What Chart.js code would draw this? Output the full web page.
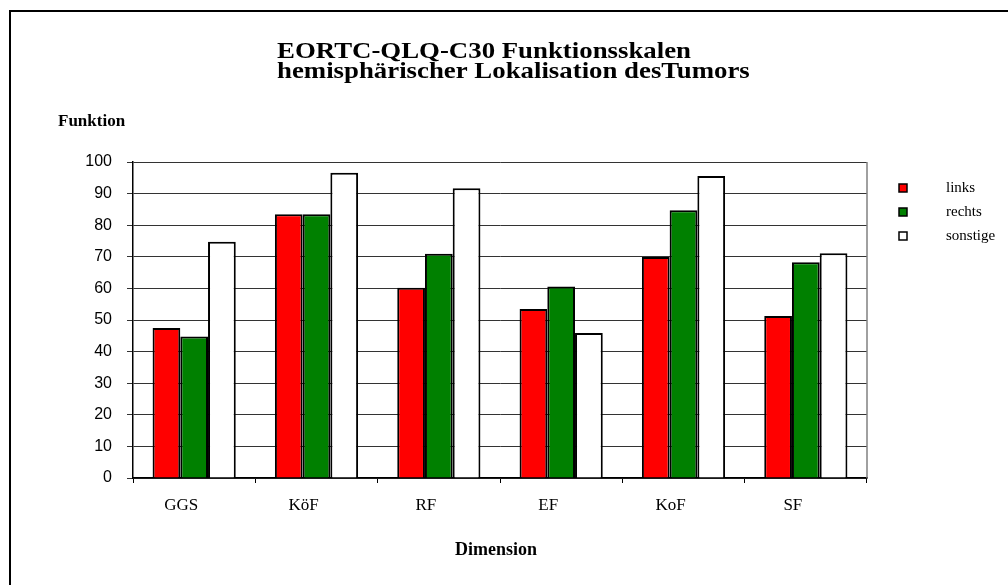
<!DOCTYPE html>
<html>
<head>
<meta charset="utf-8">
<script src="https://cdn.jsdelivr.net/npm/chart.js@4"></script>
<style>
  html, body { margin: 0; padding: 0; background: #fff; }
  #wrap { width: 1008px; height: 585px; position: relative; }
</style>
</head>
<body>
<div id="wrap"><canvas id="chart" width="1008" height="585"></canvas></div>
<script>
// data
const categories = ['GGS', 'KöF', 'RF', 'EF', 'KoF', 'SF'];
const links    = [47.5, 83.5, 60.2, 53.5, 69.9, 51.3];
const rechts   = [44.8, 83.5, 71.0, 60.6, 84.7, 68.3];
const sonstige = [74.8, 96.6, 91.7, 45.9, 95.6, 71.1];
const seriesNames = ['links', 'rechts', 'sonstige'];
const titleLines = ['EORTC-QLQ-C30 Funktionsskalen', 'hemisphärischer Lokalisation desTumors'];
const yTitle = 'Funktion';
const xTitle = 'Dimension';

const serif = '"Liberation Serif", "Times New Roman", serif';
const sans = '"Liberation Sans", Arial, sans-serif';

// draws the frame, title, axis captions, right plot border and the legend
const decorations = {
  id: 'decorations',
  afterDraw(chart) {
    const ctx = chart.ctx;
    const area = chart.chartArea;
    ctx.save();
    // outer frame (cropped at right and bottom)
    ctx.fillStyle = '#000';
    ctx.fillRect(9, 10, 1008, 2);
    ctx.fillRect(9, 10, 2, 585);

    // title, left aligned block, stretched to the original width
    ctx.fillStyle = '#000';
    ctx.textBaseline = 'alphabetic';
    ctx.textAlign = 'left';
    ctx.save();
    ctx.font = 'bold 24px ' + serif;
    const sx = 414 / ctx.measureText(titleLines[0]).width;
    ctx.translate(277, 0);
    ctx.scale(sx, 1);
    ctx.fillText(titleLines[0], 0, 58);
    ctx.fillText(titleLines[1], 0, 78);
    ctx.restore();

    ctx.font = 'bold 17px ' + serif;
    ctx.fillText(yTitle, 58, 126);

    ctx.textAlign = 'center';
    ctx.font = 'bold 18px ' + serif;
    ctx.fillText(xTitle, (area.left + area.right) / 2 - 4, 555);

    // right edge of the plot area
    ctx.strokeStyle = '#808080';
    ctx.lineWidth = 1.5;
    ctx.beginPath();
    ctx.moveTo(area.right, area.top);
    ctx.lineTo(area.right, area.bottom);
    ctx.stroke();

    // legend
    ctx.textAlign = 'left';
    ctx.textBaseline = 'middle';
    ctx.font = '15px ' + serif;
    chart.data.datasets.forEach((ds, i) => {
      const y = 188 + i * 24;
      ctx.fillStyle = ds.backgroundColor;
      ctx.fillRect(899, y - 4, 8, 8);
      ctx.strokeStyle = '#000';
      ctx.lineWidth = 1.5;
      ctx.strokeRect(899, y - 4, 8, 8);
      ctx.fillStyle = '#000';
      ctx.fillText(ds.label, 946, y);
    });
    ctx.restore();
  }
};

const colors = ['#ff0000', '#008000', '#ffffff'];
const values = [links, rechts, sonstige];

new Chart(document.getElementById('chart'), {
  type: 'bar',
  data: {
    labels: categories,
    datasets: values.map((v, i) => ({
      label: seriesNames[i],
      data: v,
      backgroundColor: colors[i],
      borderColor: '#000',
      borderWidth: 2,
      barPercentage: 1,
      categoryPercentage: 0.68
    }))
  },
  options: {
    responsive: false,
    animation: false,
    layout: { padding: { left: 0, top: 162, right: 141, bottom: 0 } },
    plugins: {
      legend: { display: false },
      title: { display: false },
      tooltip: { enabled: false }
    },
    scales: {
      x: {
        grid: {
          display: true,
          drawOnChartArea: false,
          tickLength: 5,
          color: '#000',
          lineWidth: 1
        },
        border: { color: '#000', width: 1.5 },
        ticks: {
          color: '#000',
          font: { family: serif, size: 17 },
          padding: 12,
          labelOffset: -13,
          maxRotation: 0
        },
        afterFit(scale) { scale.height = 107; }
      },
      y: {
        min: 0,
        max: 100,
        grid: {
          color: '#333',
          lineWidth: 1,
          tickLength: 6
        },
        border: { color: '#000', width: 1.5 },
        ticks: {
          stepSize: 10,
          color: '#000',
          font: { family: sans, size: 16 },
          padding: 15
        },
        afterFit(scale) { scale.width = 133; }
      }
    }
  },
  plugins: [decorations]
});
</script>
</body>
</html>
